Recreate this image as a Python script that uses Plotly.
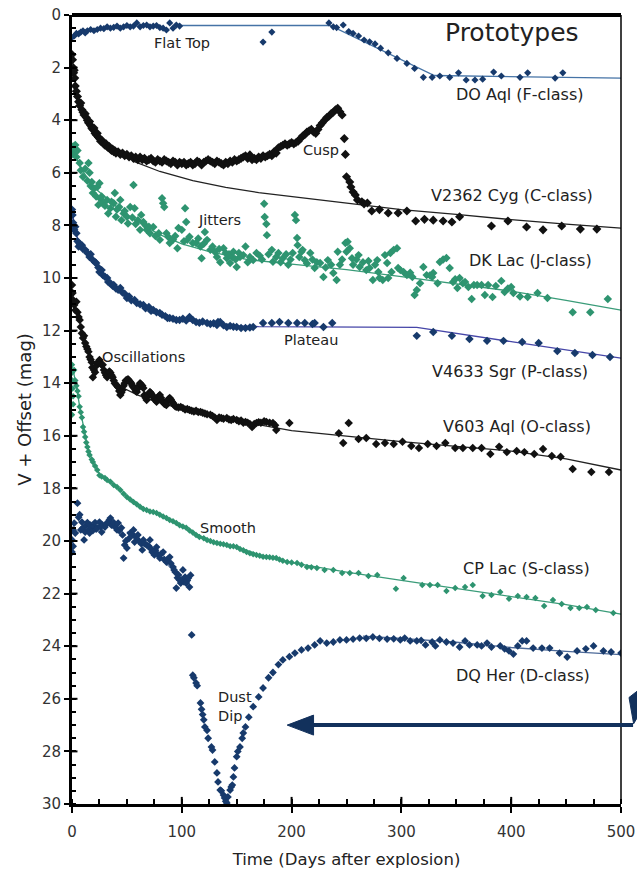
import plotly.graph_objects as go

# ---------------- observed light curves (days after explosion, V + offset) ----------------
doaql_day = [0, 2, 4, 6, 8, 10, 12, 14, 17, 20, 23, 26, 29, 32, 35, 38, 41, 44, 47, 50, 53, 56, 59,
             62, 65, 68, 71, 74, 77, 80, 83, 86, 89, 92, 95, 98, 174, 182,
             234, 238, 241, 247, 252, 256, 261, 266, 271, 276, 281, 288, 296, 305, 312, 320, 328,
             335, 344, 352, 359, 367, 374, 384, 391, 408, 415, 440, 447]
doaql_mag = [0.85, 0.8, 0.7, 0.72, 0.65, 0.6, 0.68, 0.6, 0.55, 0.6, 0.55, 0.5, 0.52, 0.45, 0.5, 0.47,
             0.42, 0.5, 0.45, 0.4, 0.45, 0.42, 0.3, 0.45, 0.4, 0.38, 0.45, 0.42, 0.4, 0.48, 0.5, 0.57,
             0.3, 0.5, 0.38, 0.42, 1.03, 0.65,
             0.3, 0.45, 0.48, 0.38, 0.63, 0.7, 0.8, 0.95, 1.02, 1.1, 1.26, 1.44, 1.65, 1.84, 2.03,
             2.37, 2.37, 2.32, 2.37, 2.2, 2.47, 2.47, 2.44, 2.17, 2.32, 2.37, 2.2, 2.4, 2.2]
doaql_fit_day = [96, 235, 330, 500]
doaql_fit_mag = [0.4, 0.4, 2.3, 2.4]

v2362_day = [0, 0.5, 1, 1.5, 2, 2.5, 3, 4, 5, 6, 7, 8, 9, 10, 11, 12, 13, 14, 15, 16, 17, 18, 19, 20,
             21, 22, 23, 24, 25, 26, 27, 28, 29, 30, 31, 32, 33, 34, 35, 36, 37, 38, 39, 40, 42, 44,
             46, 48, 50, 52, 54, 56, 58, 60, 62, 64, 66, 68, 70, 72, 74, 76, 78, 80, 82, 84, 86, 88,
             90, 92, 94, 96, 98, 100, 102, 104, 106, 108, 110, 112, 114, 116, 118, 120, 122, 124,
             126, 128, 130, 132, 134, 136, 138, 140, 142, 144, 146, 148, 150, 152, 154, 156, 158,
             160, 162, 164, 166, 168, 170, 172, 174, 176, 178, 180, 182, 184, 186, 188, 190, 192,
             194, 196, 198, 200, 202, 204, 206, 208, 210, 212, 214, 216, 218, 220, 222, 224, 226,
             228, 230, 232, 234, 236, 238, 240, 242, 244, 246, 248, 249, 250, 253, 254, 256, 258,
             260, 264, 266, 269, 273, 280, 288, 297, 305, 313, 321, 329, 338, 346, 353, 382, 397,
             414, 429, 446, 463, 478, 493]
v2362_mag = [1.5, 1.7, 2.0, 2.2, 2.1, 2.4, 2.7, 2.9, 3.1, 3.3, 3.45, 3.35, 3.6, 3.7, 3.8, 3.75, 3.9,
             4.0, 4.1, 4.05, 4.2, 4.3, 4.35, 4.3, 4.5, 4.55, 4.5, 4.65, 4.7, 4.8, 4.75, 4.85, 4.9,
             4.95, 4.9, 5.0, 5.05, 5.0, 5.1, 5.15, 5.1, 5.2, 5.15, 5.25, 5.2, 5.3, 5.25, 5.35, 5.3,
             5.4, 5.35, 5.45, 5.4, 5.5, 5.4, 5.5, 5.45, 5.55, 5.5, 5.45, 5.55, 5.6, 5.5, 5.55, 5.6,
             5.5, 5.55, 5.6, 5.65, 5.55, 5.6, 5.7, 5.6, 5.65, 5.6, 5.7, 5.65, 5.6, 5.7, 5.65, 5.55,
             5.6, 5.7, 5.6, 5.55, 5.5, 5.55, 5.6, 5.65, 5.55, 5.6, 5.65, 5.7, 5.6, 5.65, 5.55, 5.6,
             5.5, 5.55, 5.5, 5.45, 5.4, 5.35, 5.45, 5.32, 5.5, 5.45, 5.5, 5.4, 5.45, 5.35, 5.4, 5.35,
             5.3, 5.35, 5.2, 5.25, 5.05, 5.0, 4.95, 4.9, 4.95, 4.9, 4.85, 4.9, 4.85, 4.8, 4.7, 4.6,
             4.55, 4.45, 4.4, 4.35, 4.45, 4.5, 4.35, 4.2, 4.1, 4.0, 3.9, 3.85, 3.75, 3.7, 3.6, 3.55,
             3.68, 3.8, 4.7, 5.3, 6.15, 6.35, 6.54, 6.73, 6.84, 7.03, 7.1, 7.18, 7.15, 7.45, 7.4,
             7.53, 7.53, 7.45, 7.83, 7.77, 7.8, 7.83, 7.87, 7.67, 8.02, 7.83, 8.06, 8.17, 8.02, 8.14,
             8.14]
v2362_fit_day = [55, 80, 110, 140, 170, 200, 250, 300, 350, 400, 450, 500]
v2362_fit_mag = [5.55, 5.95, 6.3, 6.55, 6.75, 6.9, 7.15, 7.4, 7.58, 7.78, 7.95, 8.1]

dklac_day = [0, 1, 2, 3, 4, 5, 7, 8, 10, 12, 14, 15, 16, 17, 18, 19, 20, 22, 23, 24, 25, 26, 27, 28,
             30, 32, 33, 35, 36, 38, 39, 40, 41, 43, 44, 45, 47, 48, 50, 51, 53, 55, 56, 57, 58, 60,
             62, 63, 65, 67, 68, 70, 71, 74, 76, 79, 80, 82, 83, 84, 86, 88, 89, 92, 94, 96, 97, 100,
             102, 103, 104, 105, 107, 110, 113, 115, 117, 118, 120, 121, 123, 126, 128, 130, 132,
             134, 135, 138, 140, 141, 143, 144, 146, 147, 149, 150, 152, 153, 156, 158, 160, 162,
             165, 168, 171, 173, 175, 175.5, 177, 177.5, 179, 182, 183, 186, 188, 190, 192, 195,
             197, 199, 201, 203, 204, 205, 205.5, 207, 209, 210, 212, 214, 217, 219, 221, 223, 226,
             229, 231, 233, 236, 238, 241, 242, 244, 246, 249, 250, 251, 253, 255, 256, 259, 261,
             262, 265, 268, 270, 271, 274, 276, 278, 279, 280, 283, 285, 287, 288, 290, 291, 293,
             296, 297, 299, 302, 305, 308, 310, 312, 314, 317, 320, 323, 326, 328, 329, 333, 335,
             338, 341, 344, 347, 349, 351, 353, 356, 358, 361, 364, 366, 369, 373, 376, 379, 383,
             386, 391, 394, 397, 400, 402, 408, 415, 424, 433, 456, 472, 488]
dklac_mag = [5.3, 5.0, 5.25, 4.94, 5.4, 5.15, 5.63, 5.9, 6.15, 5.85, 6.3, 5.63, 6.0, 6.5, 6.35, 6.77,
             6.6, 6.9, 6.54, 7.22, 6.4, 7.0, 6.9, 7.16, 7.25, 7.03, 7.55, 7.35, 7.1, 7.16, 6.77, 7.67,
             7.4, 7.3, 7.03, 7.8, 7.55, 7.45, 7.67, 7.93, 7.3, 7.7, 6.46, 7.35, 7.95, 7.8, 8.17, 7.6,
             7.87, 8.0, 8.17, 8.05, 8.3, 8.06, 8.4, 8.3, 8.55, 6.97, 7.16, 7.3, 8.3, 8.45, 8.67, 8.55,
             8.4, 8.87, 8.1, 8.17, 8.6, 7.35, 7.87, 8.55, 8.43, 8.67, 8.67, 8.5, 8.8, 9.25, 8.7, 8.25,
             8.55, 8.93, 8.8, 9.0, 9.2, 8.9, 9.4, 8.87, 9.05, 9.25, 9.1, 9.43, 9.2, 9.0, 9.3, 9.58,
             9.05, 9.2, 9.13, 8.8, 9.4, 9.2, 9.32, 9.05, 9.15, 9.3, 7.18, 7.68, 7.95, 8.37, 9.1, 8.93,
             9.38, 9.2, 9.05, 9.4, 9.25, 9.1, 9.5, 9.3, 9.05, 7.6, 7.8, 8.48, 8.75, 9.2, 9.0, 8.93,
             9.32, 9.45, 9.05, 9.3, 9.62, 9.4, 9.43, 9.96, 9.6, 9.32, 9.5, 9.81, 10.08, 9.0, 9.5, 9.3,
             8.67, 9.0, 8.62, 8.87, 9.25, 9.5, 9.3, 9.13, 9.58, 9.4, 9.7, 9.35, 9.62, 10.08, 9.5,
             9.32, 9.77, 10.0, 10.08, 9.13, 9.43, 10.0, 9.05, 9.77, 8.93, 8.87, 9.62, 9.7, 9.77, 9.89,
             9.8, 9.96, 10.65, 10.46, 10.2, 9.58, 9.89, 9.9, 9.96, 9.81, 10.2, 9.39, 9.3, 9.24, 9.62,
             10.15, 10.05, 10.38, 10.0, 10.2, 10.15, 10.34, 10.8, 10.27, 10.27, 10.27, 10.65, 10.27,
             10.72, 10.3, 10.11, 10.53, 10.4, 10.34, 10.57, 10.7, 10.72, 10.57, 10.76, 11.3, 11.3,
             10.8]
dklac_fit_day = [0, 5, 10, 20, 35, 50, 65, 80, 100, 125, 160, 200, 250, 300, 350, 400, 450, 500]
dklac_fit_mag = [5.1, 5.5, 5.95, 6.55, 7.1, 7.6, 8.0, 8.35, 8.7, 9.0, 9.3, 9.47, 9.68, 9.95, 10.22,
                 10.5, 10.85, 11.22]

v4633_day = [0, 0.5, 1, 2, 3, 4, 5, 6, 7, 9, 10, 12, 14, 16, 17, 19, 21, 22, 24, 25, 27, 28, 30, 32,
             33, 35, 37, 38, 40, 42, 44, 46, 48, 50, 52, 54, 57, 59, 62, 65, 67, 70, 72, 74, 77, 80,
             82, 85, 87, 89, 92, 95, 98, 101, 104, 107, 110, 113, 116, 119, 123, 126, 129, 132, 133,
             135, 138, 141, 144, 147, 150, 154, 158, 162, 165, 174, 182, 189, 197, 205, 212, 219,
             221, 229, 237, 314, 329, 346, 362, 378, 393, 410, 425, 442, 458, 474, 490]
v4633_mag = [7.4, 7.6, 7.9, 8.17, 8.05, 8.3, 8.6, 8.8, 8.7, 8.75, 8.9, 8.93, 9.05, 9.2, 9.1, 9.32,
             9.4, 9.43, 9.6, 9.77, 9.7, 9.89, 9.95, 10.0, 10.15, 10.2, 10.3, 10.27, 10.4, 10.45,
             10.38, 10.55, 10.6, 10.76, 10.7, 10.85, 10.84, 10.95, 11.0, 11.03, 11.15, 11.1, 11.25,
             11.22, 11.3, 11.33, 11.4, 11.45, 11.52, 11.52, 11.55, 11.6, 11.6, 11.55, 11.62, 11.48,
             11.6, 11.67, 11.7, 11.65, 11.71, 11.75, 11.72, 11.79, 11.67, 11.67, 11.8, 11.86, 11.82,
             11.85, 11.86, 11.9, 11.9, 11.88, 11.86, 11.71, 11.71, 11.67, 11.71, 11.71, 11.71, 11.75,
             11.71, 11.86, 11.71, 12.2, 12.05, 12.2, 12.32, 12.39, 12.39, 12.43, 12.47, 12.78, 12.85,
             12.93, 13.0]
v4633_fit_day = [0, 5, 10, 20, 30, 45, 60, 80, 100, 130, 170, 314, 400, 500]
v4633_fit_mag = [7.5, 8.5, 8.9, 9.35, 9.95, 10.5, 10.95, 11.35, 11.6, 11.78, 11.85, 11.88, 12.42, 13.05]

v603_day = [0, 0.5, 1, 2, 3, 4, 5, 6, 7, 8, 9, 10, 11, 12, 13, 14, 15, 16, 17, 18, 18.5, 19, 20, 21,
            22, 23, 24, 25, 26, 27, 28, 29, 30, 31, 32, 33, 34, 35, 36, 37, 38, 39, 40, 41, 42, 43,
            44, 45, 46, 47, 48, 49, 50, 51, 52, 53, 54, 55, 56, 57, 58, 59, 60, 61, 62, 63, 64, 65,
            66, 67, 68, 69, 70, 71, 72, 73, 74, 75, 76, 77, 78, 79, 80, 81, 82, 83, 84, 85, 86, 87,
            88, 89, 90, 91, 92, 93, 94, 95, 97, 99, 101, 103, 105, 107, 109, 111, 113, 115, 117,
            119, 121, 123, 126, 128, 130, 132, 134, 136, 138, 141, 143, 145, 147, 150, 152, 154,
            156, 158, 160, 162, 164, 166, 168, 170, 172, 175, 177, 180, 183, 185, 186, 198,
            243, 247, 252, 261, 268, 277, 285, 293, 301, 309, 316, 324, 332, 340, 349, 356, 365,
            373, 381, 389, 396, 405, 412, 421, 429, 437, 445, 456, 473, 489]
v603_mag = [10.27, 10.57, 10.84, 11.03, 11.22, 10.9, 11.3, 11.48, 11.6, 11.86, 12.1, 12.28, 12.2,
            12.47, 12.6, 12.7, 12.8, 13.0, 13.1, 13.2, 13.4, 13.77, 13.5, 13.58, 13.35, 13.23, 13.2,
            13.12, 13.25, 13.3, 13.3, 13.5, 13.6, 13.7, 13.77, 13.65, 13.55, 13.6, 13.7, 13.77,
            13.9, 14.0, 14.05, 14.1, 14.15, 14.3, 14.45, 14.35, 14.26, 14.1, 14.0, 13.9, 13.88,
            13.85, 13.9, 13.95, 14.0, 14.1, 14.15, 14.2, 14.3, 14.33, 14.2, 14.1, 14.0, 14.05, 14.1,
            14.18, 14.45, 14.55, 14.64, 14.5, 14.4, 14.33, 14.38, 14.45, 14.52, 14.6, 14.65, 14.71,
            14.6, 14.5, 14.45, 14.55, 14.65, 14.71, 14.78, 14.8, 14.83, 14.7, 14.6, 14.56, 14.62,
            14.7, 14.75, 14.82, 14.88, 14.9, 14.92, 14.9, 14.94, 15.0, 14.98, 15.02, 15.05, 15.08,
            15.05, 15.1, 15.09, 15.12, 15.15, 15.18, 15.2, 15.25, 15.3, 15.4, 15.3, 15.32, 15.35,
            15.32, 15.38, 15.4, 15.36, 15.4, 15.45, 15.42, 15.5, 15.47, 15.5, 15.55, 15.67, 15.55,
            15.51, 15.48, 15.5, 15.45, 15.47, 15.5, 15.51, 15.6, 15.78, 15.51,
            15.9, 16.27, 15.51, 16.12, 16.08, 16.31, 16.27, 16.31, 16.23, 16.39, 16.46, 16.31,
            16.39, 16.27, 16.46, 16.46, 16.46, 16.46, 16.69, 16.42, 16.62, 16.58, 16.62, 16.69,
            16.5, 16.77, 16.8, 17.26, 17.38, 17.38]
v603_fit_day = [40, 60, 80, 100, 130, 160, 200, 250, 300, 350, 400, 450, 500]
v603_fit_mag = [14.05, 14.45, 14.75, 14.98, 15.25, 15.5, 15.8, 16.02, 16.22, 16.4, 16.58, 16.88, 17.3]

cplac_day = [0, 0, 0.5, 0.5, 1, 1, 0, 2, 3, 4, 5, 6, 7, 8, 9, 10, 11, 12, 13, 14, 15, 16, 18, 19,
             21, 23, 25, 27, 30, 32, 35, 38, 41, 44, 47, 50, 53, 56, 59, 62, 65, 68, 71, 74, 77, 80,
             83, 86, 89, 92, 95, 98, 101, 104, 107, 110, 113, 116, 120, 123, 126, 129, 132, 135, 138,
             141, 144, 147, 150, 153, 156, 159, 162, 165, 168, 171, 174, 177, 180, 183, 186, 189,
             192, 196, 200, 205, 209, 214, 218, 223, 230, 238, 246, 253, 261, 270, 278, 295, 302,
             319, 326, 333, 341, 349, 358, 365, 374, 382, 390, 398, 406, 414, 422, 430, 438, 446,
             454, 462, 469, 477, 493]
cplac_mag = [13.3, 13.6, 13.9, 14.2, 14.5, 14.8, 15.2, 13.5, 13.9, 14.1, 14.3, 14.5, 14.9, 15.1,
             15.3, 15.67, 15.85, 16.05, 16.25, 16.43, 16.6, 16.73, 16.9, 17.0, 17.15, 17.3, 17.5,
             17.55, 17.6, 17.68, 17.75, 17.87, 17.95, 18.06, 18.2, 18.33, 18.42, 18.52, 18.6, 18.7,
             18.78, 18.82, 18.88, 18.9, 18.94, 19.0, 19.07, 19.13, 19.2, 19.25, 19.32, 19.4, 19.45,
             19.5, 19.6, 19.68, 19.77, 19.85, 19.9, 19.96, 20.0, 20.05, 20.08, 20.1, 20.12, 20.15,
             20.2, 20.2, 20.23, 20.3, 20.35, 20.42, 20.47, 20.5, 20.53, 20.56, 20.6, 20.61, 20.62,
             20.64, 20.65, 20.7, 20.75, 20.8, 20.82, 20.84, 20.9, 20.99, 21.0, 21.03, 21.1, 21.1,
             21.22, 21.22, 21.22, 21.33, 21.29, 21.82, 21.41, 21.67, 21.67, 21.67, 21.9, 21.79,
             21.75, 21.67, 22.09, 22.05, 21.94, 22.2, 22.09, 22.13, 22.17, 22.47, 22.24, 22.4,
             22.55, 22.55, 22.51, 22.62, 22.74]
cplac_fit_day = [0, 4, 7, 10, 14, 19, 25, 35, 50, 65, 80, 100, 125, 150, 175, 200, 250, 300, 350,
                 400, 450, 500]
cplac_fit_mag = [13.3, 14.1, 14.9, 15.6, 16.4, 17.0, 17.45, 17.75, 18.3, 18.75, 19.0, 19.42, 19.98,
                 20.23, 20.58, 20.82, 21.18, 21.5, 21.8, 22.1, 22.42, 22.78]

dqher_day = [0, 0, 1, 1, 2, 3, 5, 6, 7, 8, 9, 10, 11, 12, 13, 14, 15, 16, 17, 18, 19, 20, 21, 22,
             23, 25, 26, 27, 28, 30, 31, 33, 34, 35, 36, 37, 38, 40, 41, 42, 43, 45, 46, 47, 48, 49,
             50, 52, 53, 55, 56, 57, 58, 60, 61, 63, 64, 65, 66, 68, 70, 71, 72, 73, 75, 76, 77, 78,
             80, 81, 83, 84, 86, 87, 89, 90, 92, 93, 94, 95, 96, 97, 98, 99, 100, 101, 102, 103, 104,
             105, 106, 107, 108,
             109, 110, 111, 113, 114, 117, 118, 119, 120, 121, 123, 124, 127, 128, 130, 132, 133,
             135, 136, 138, 139, 140, 141, 142, 144, 145, 146, 147, 148, 150, 151, 153, 155, 156,
             158, 161, 165, 170, 174, 179, 183, 188, 192, 198, 203, 209, 215, 221, 226, 232, 238,
             244, 250, 256, 262, 268, 274, 280, 287, 293, 299, 303, 308, 314, 318, 322, 328, 331,
             335, 341, 347, 353, 358, 362, 369, 373, 378, 382, 390, 394, 398, 402, 406, 410, 414,
             420, 428, 435, 444, 451, 460, 468, 475, 484, 491, 500]
dqher_mag = [20.42, 19.96, 19.58, 20.2, 19.32, 19.7, 18.56, 19.1, 19.0, 19.58, 19.28, 19.5, 19.96,
             19.66, 19.4, 19.3, 19.58, 19.7, 19.4, 19.5, 19.6, 19.45, 19.3, 19.55, 19.5, 19.28,
             19.45, 19.66, 19.4, 19.47, 19.35, 19.28, 19.2, 19.13, 19.4, 19.39, 19.3, 19.5, 19.58,
             19.32, 19.6, 19.5, 19.77, 20.65, 20.15, 20.0, 20.27, 19.9, 19.7, 19.75, 19.58, 20.04,
             19.85, 19.77, 20.0, 20.1, 20.34, 19.96, 20.1, 20.15, 20.2, 19.96, 20.3, 20.42, 20.53,
             20.35, 20.23, 20.5, 20.65, 20.5, 20.42, 20.7, 20.8, 20.7, 20.61, 20.85, 20.99, 21.1,
             21.18, 21.79, 21.4, 21.29, 21.48, 21.6, 21.5, 21.1, 21.55, 21.37, 21.6, 21.5, 21.41,
             21.75, 21.3,
             23.57, 25.1, 25.2, 25.4, 25.5, 26.16, 26.4, 26.6, 26.8, 27.07, 27.2, 27.5, 27.83,
             27.95, 28.4, 28.82, 29.16, 29.47, 29.5, 29.66, 29.77, 29.9, 29.96, 29.73, 29.47, 29.35,
             29.28, 28.97, 28.63, 28.2, 28.0, 27.83, 27.5, 27.3, 27.07, 26.7, 26.3, 25.93, 25.59,
             25.2, 25.0, 24.7, 24.52, 24.4, 24.26, 24.14, 24.07, 23.95, 23.8, 23.88, 23.84, 23.76,
             23.76, 23.73, 23.69, 23.7, 23.65, 23.7, 23.73, 23.72, 23.76, 23.69, 23.8, 23.8, 23.78,
             23.95, 23.84, 23.99, 23.76, 23.84, 23.88, 24.03, 23.8, 23.95, 23.95, 23.99, 23.88,
             24.03, 23.99, 24.1, 24.18, 24.3, 23.99, 23.8, 23.8, 24.07, 24.07, 24.07, 24.26, 24.41,
             24.18, 24.1, 23.99, 24.18, 24.22, 24.26]
dqher_fit1_day = [50, 107]
dqher_fit1_mag = [19.65, 21.6]
dqher_fit2_day = [265, 300, 350, 400, 450, 500]
dqher_fit2_mag = [23.62, 23.7, 23.85, 24.05, 24.2, 24.32]

# ---------------- text ----------------
class_labels = ["DO Aql (F-class)", "V2362 Cyg (C-class)", "DK Lac (J-class)",
                "V4633 Sgr (P-class)", "V603 Aql (O-class)", "CP Lac (S-class)", "DQ Her (D-class)"]
class_label_day = [408, 401, 418, 399, 405, 414, 411]
class_label_mag = [3.04, 6.88, 9.35, 13.57, 15.63, 21.06, 25.1]

feature_labels = ["Flat Top", "Cusp", "Jitters", "Plateau", "Oscillations", "Smooth"]
feature_label_day = [100, 227, 134, 218, 65, 142]
feature_label_mag = [1.06, 5.13, 7.79, 12.36, 13.0, 19.5]

x_ticks = [0, 100, 200, 300, 400, 500]
y_ticks = list(range(0, 31, 2))

NAVY = "#173a6c"
GREEN = "#2e9470"
BLACK = "#111111"
FONT = "Lucida Grande, DejaVu Sans, sans-serif"
TEXT = "#222222"

fig = go.Figure()


def add_points(days, mags, color, size=6):
    fig.add_trace(go.Scatter(x=days, y=mags, mode="markers",
                             marker=dict(symbol="diamond", size=size, color=color, line=dict(width=0)),
                             showlegend=False, hoverinfo="skip"))


def add_fit(days, mags, color, width=1.3):
    fig.add_trace(go.Scatter(x=days, y=mags, mode="lines", line=dict(color=color, width=width),
                             showlegend=False, hoverinfo="skip"))


add_fit(doaql_fit_day, doaql_fit_mag, "#4573a6")
add_points(doaql_day, doaql_mag, NAVY, 5.5)

add_fit(v2362_fit_day, v2362_fit_mag, "#222222")
add_points(v2362_day, v2362_mag, BLACK, 7)

add_fit(dklac_fit_day, dklac_fit_mag, "#3a9c79")
add_points(dklac_day, dklac_mag, GREEN, 6.5)

add_fit(v4633_fit_day, v4633_fit_mag, "#4646a8")
add_points(v4633_day, v4633_mag, NAVY, 6.5)

add_fit(v603_fit_day, v603_fit_mag, "#222222")
add_points(v603_day, v603_mag, BLACK, 6.5)

add_fit(cplac_fit_day, cplac_fit_mag, "#3a9c79")
add_points(cplac_day, cplac_mag, GREEN, 5)

add_fit(dqher_fit1_day, dqher_fit1_mag, "#6b86ad")
add_fit(dqher_fit2_day, dqher_fit2_mag, "#4d6a99")
add_points(dqher_day, dqher_mag, NAVY, 6)

annotations = []
for txt, d, m in zip(class_labels, class_label_day, class_label_mag):
    annotations.append(dict(x=d, y=m, text=txt, showarrow=False, xanchor="center",
                            font=dict(family=FONT, size=16, color=TEXT)))
for txt, d, m in zip(feature_labels, feature_label_day, feature_label_mag):
    annotations.append(dict(x=d, y=m, text=txt, showarrow=False, xanchor="center",
                            font=dict(family=FONT, size=14.5, color=TEXT)))
annotations.append(dict(x=131, y=26.3, text="Dust<br>Dip", showarrow=False, xanchor="left",
                        align="left", font=dict(family=FONT, size=14.5, color=TEXT)))
annotations.append(dict(x=0.802, y=0.978, xref="paper", yref="paper", text="Prototypes",
                        xanchor="center", yanchor="middle",
                        showarrow=False, font=dict(family=FONT, size=25, color=TEXT)))

shapes = []
# frame: heavy top edge, thin right edge
shapes.append(dict(type="line", xref="paper", yref="paper", x0=0, x1=1, y0=1, y1=1,
                   line=dict(color="black", width=4)))
shapes.append(dict(type="line", xref="paper", yref="paper", x0=1, x1=1, y0=0, y1=1,
                   line=dict(color="black", width=1.5)))
# inner halves of the major ticks (ticks cross the axis lines)
for v in y_ticks[1:-1]:
    shapes.append(dict(type="line", xref="x domain", yref="y", x0=0, x1=0.01, y0=v, y1=v,
                       line=dict(color="black", width=2)))
for v in x_ticks[1:-1]:
    shapes.append(dict(type="line", xref="x", yref="y domain", x0=v, x1=v, y0=0, y1=0.009,
                       line=dict(color="black", width=2)))
# arrow pointing at the dust dip
ARROW = "#12315c"
shapes.append(dict(type="line", xref="x domain", yref="y", x0=0.42, x1=1.022, y0=27.0, y1=27.0,
                   line=dict(color=ARROW, width=4), layer="above"))
shapes.append(dict(type="path", xref="x", yref="y",
                   path="M 196,27.0 L 220,26.62 L 220,27.38 Z",
                   fillcolor=ARROW, line=dict(color=ARROW, width=1)))
shapes.append(dict(type="path", xref="x domain", yref="y",
                   path="M 1.0146,25.95 L 1.03,25.7 L 1.03,26.7 L 1.023,26.95 Z",
                   fillcolor=ARROW, line=dict(color=ARROW, width=1)))

fig.update_layout(
    width=637, height=871,
    margin=dict(l=72, r=16, t=15, b=67, autoexpand=False),
    paper_bgcolor="white", plot_bgcolor="white",
    font=dict(family=FONT, color=TEXT),
    annotations=annotations, shapes=shapes,
    showlegend=False,
)
fig.update_xaxes(
    range=[0, 500], tickmode="array", tickvals=x_ticks, ticktext=[str(v) for v in x_ticks],
    ticks="outside", ticklen=6, tickwidth=2, tickcolor="black", ticklabelstandoff=6,
    minor=dict(dtick=25, ticks="inside", ticklen=5, tickwidth=2, tickcolor="black"),
    showline=True, linecolor="black", linewidth=3, mirror=False,
    showgrid=False, zeroline=False, automargin=False,
    tickfont=dict(family=FONT, size=15, color="#333333"),
    title=dict(text="Time (Days after explosion)", font=dict(family=FONT, size=16.5, color=TEXT),
               standoff=14),
)
fig.update_yaxes(
    range=[30, 0], tickmode="array", tickvals=y_ticks, ticktext=[str(v) for v in y_ticks],
    ticks="outside", ticklen=5, tickwidth=2, tickcolor="black",
    minor=dict(dtick=0.5, ticks="inside", ticklen=4, tickwidth=1.5, tickcolor="black"),
    showline=True, linecolor="black", linewidth=3, mirror=False,
    showgrid=False, zeroline=False, automargin=False,
    tickfont=dict(family=FONT, size=15, color="#333333"),
    title=dict(text="V + Offset (mag)", font=dict(family=FONT, size=18, color=TEXT), standoff=6),
)

fig.write_html("out.html")
